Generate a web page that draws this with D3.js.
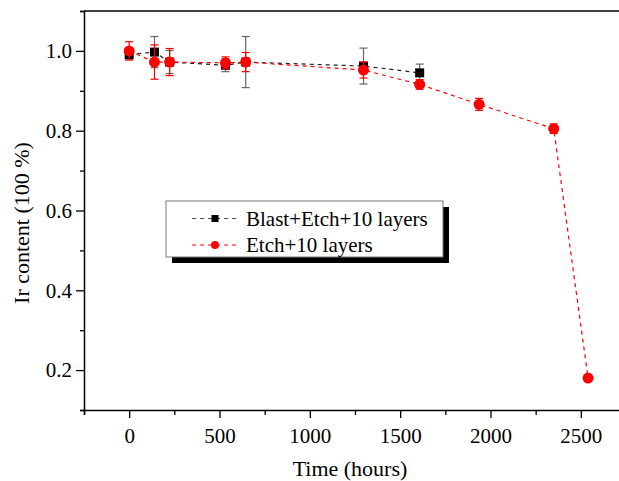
<!DOCTYPE html>
<html>
<head>
<meta charset="utf-8">
<script src="https://cdn.jsdelivr.net/npm/d3@7"></script>
<style>
  body { margin: 0; background: #fff; }
  svg { display: block; font-family: "Liberation Serif", "Times New Roman", serif; }
</style>
</head>
<body>
<div id="chart"></div>
<script>
// --- Data ---
const blastTime = [0, 140, 224, 533, 645, 1297, 1608];
const blastValue = [0.991, 0.997, 0.972, 0.964, 0.972, 0.962, 0.945];
const blastError = [0.012, 0.039, 0.029, 0.016, 0.064, 0.045, 0.022];

const etchTime = [0, 140, 224, 533, 645, 1297, 1608, 1937, 2350, 2540];
const etchValue = [1.0, 0.972, 0.972, 0.970, 0.972, 0.952, 0.916, 0.866, 0.805, 0.180];
const etchError = [0.023, 0.043, 0.034, 0.015, 0.024, 0.02, 0.012, 0.015, 0.012, 0.005];

const xTicks = [0, 500, 1000, 1500, 2000, 2500];
const yTicks = [0.2, 0.4, 0.6, 0.8, 1.0];
const seriesNames = ["Blast+Etch+10 layers", "Etch+10 layers"];

const width = 619, height = 481;
const margin = { left: 84, top: 11, bottom: 71 };

const svg = d3.select("#chart").append("svg")
  .attr("width", width)
  .attr("height", height);

const x = d3.scaleLinear().domain([-250, 2750]).range([margin.left, margin.left + 542]);
const y = d3.scaleLinear().domain([0.1, 1.1]).range([height - margin.bottom, margin.top]);

const zip = (t, v, e) => t.map((d, i) => ({ t: d, v: v[i], e: e[i] }));
const blast = zip(blastTime, blastValue, blastError);
const etch = zip(etchTime, etchValue, etchError);

// --- Frame (top + right lines) ---
svg.append("line")
  .attr("x1", x(-250)).attr("x2", x(2750))
  .attr("y1", y(1.1)).attr("y2", y(1.1))
  .attr("stroke", "#000").attr("stroke-width", 1.5);
svg.append("line")
  .attr("x1", x(2750)).attr("x2", x(2750))
  .attr("y1", y(1.1)).attr("y2", y(0.1))
  .attr("stroke", "#000").attr("stroke-width", 1.5);

// --- Axes ---
const styleAxis = (g) => {
  g.select(".domain").attr("stroke-width", 1.5);
  g.selectAll(".tick line").attr("stroke-width", 1.3);
  g.selectAll(".tick text").attr("font-size", 21).attr("fill", "#000")
    .attr("font-family", "Liberation Serif, Times New Roman, serif");
};

svg.append("g")
  .attr("transform", `translate(0,${y(0.1)})`)
  .call(d3.axisBottom(x).tickValues(d3.range(-250, 2751, 500)).tickSize(5).tickFormat(""))
  .call(styleAxis);
svg.append("g")
  .attr("transform", `translate(0,${y(0.1)})`)
  .call(d3.axisBottom(x).tickValues(xTicks).tickSize(8).tickPadding(10).tickFormat(d3.format("d")))
  .call(styleAxis)
  .call(g => g.select(".domain").remove());

svg.append("g")
  .attr("transform", `translate(${x(-250)},0)`)
  .call(d3.axisLeft(y).tickValues(d3.range(0.1, 1.15, 0.2)).tickSize(4).tickFormat(""))
  .call(styleAxis);
svg.append("g")
  .attr("transform", `translate(${x(-250)},0)`)
  .call(d3.axisLeft(y).tickValues(yTicks).tickSize(8).tickPadding(4).tickFormat(d3.format(".1f")))
  .call(styleAxis)
  .call(g => g.select(".domain").remove());

// --- Axis titles ---
svg.append("text")
  .attr("x", 350).attr("y", 476)
  .attr("text-anchor", "middle")
  .attr("font-size", 22)
  .text("Time (hours)");
svg.append("text")
  .attr("transform", `translate(29,223) rotate(-90)`)
  .attr("text-anchor", "middle")
  .attr("font-size", 22)
  .text("Ir content (100 %)");

// --- Series ---
const line = d3.line().x(d => x(d.t)).y(d => y(d.v));

function drawErrors(data, color) {
  const g = svg.append("g").attr("stroke", color).attr("stroke-width", 1.2);
  data.forEach(d => {
    const cx = x(d.t);
    g.append("line").attr("x1", cx).attr("x2", cx).attr("y1", y(d.v - d.e)).attr("y2", y(d.v + d.e));
    g.append("line").attr("x1", cx - 4).attr("x2", cx + 4).attr("y1", y(d.v - d.e)).attr("y2", y(d.v - d.e));
    g.append("line").attr("x1", cx - 4).attr("x2", cx + 4).attr("y1", y(d.v + d.e)).attr("y2", y(d.v + d.e));
  });
}

// black series
svg.append("path").datum(blast)
  .attr("d", line).attr("fill", "none")
  .attr("stroke", "#222").attr("stroke-width", 1.2).attr("stroke-dasharray", "4,4");
drawErrors(blast, "#666");
svg.append("g").selectAll("rect").data(blast).join("rect")
  .attr("x", d => x(d.t) - 4.5).attr("y", d => y(d.v) - 4.5)
  .attr("width", 9).attr("height", 9).attr("fill", "#000");

// red series
svg.append("path").datum(etch)
  .attr("d", line).attr("fill", "none")
  .attr("stroke", "#ff0000").attr("stroke-width", 1.2).attr("stroke-dasharray", "4,4");
drawErrors(etch, "#ff0000");
svg.append("g").selectAll("circle").data(etch).join("circle")
  .attr("cx", d => x(d.t)).attr("cy", d => y(d.v))
  .attr("r", 5.5).attr("fill", "#ff0000");

// --- Legend ---
const lg = svg.append("g").attr("transform", "translate(166,201)");
lg.append("rect").attr("x", 6).attr("y", 6).attr("width", 277).attr("height", 56).attr("fill", "#000");
lg.append("rect").attr("x", 0).attr("y", 0).attr("width", 277).attr("height", 56)
  .attr("fill", "#fff").attr("stroke", "#777").attr("stroke-width", 1);

const rows = [
  { name: seriesNames[0], color: "#555", mark: "rect", fillc: "#000" },
  { name: seriesNames[1], color: "#ff0000", mark: "circle", fillc: "#ff0000" }
];
rows.forEach((r, i) => {
  const cy = 17.5 + i * 26.5;
  lg.append("line").attr("x1", 26).attr("x2", 71).attr("y1", cy).attr("y2", cy)
    .attr("stroke", r.color).attr("stroke-width", 1.2).attr("stroke-dasharray", "4,4");
  if (r.mark === "rect") {
    lg.append("rect").attr("x", 49 - 3.5).attr("y", cy - 3.5).attr("width", 7).attr("height", 7).attr("fill", r.fillc);
  } else {
    lg.append("circle").attr("cx", 49).attr("cy", cy).attr("r", 4).attr("fill", r.fillc);
  }
  lg.append("text").attr("x", 80).attr("y", cy + 7).attr("font-size", 21).text(r.name);
});
</script>
</body>
</html>
